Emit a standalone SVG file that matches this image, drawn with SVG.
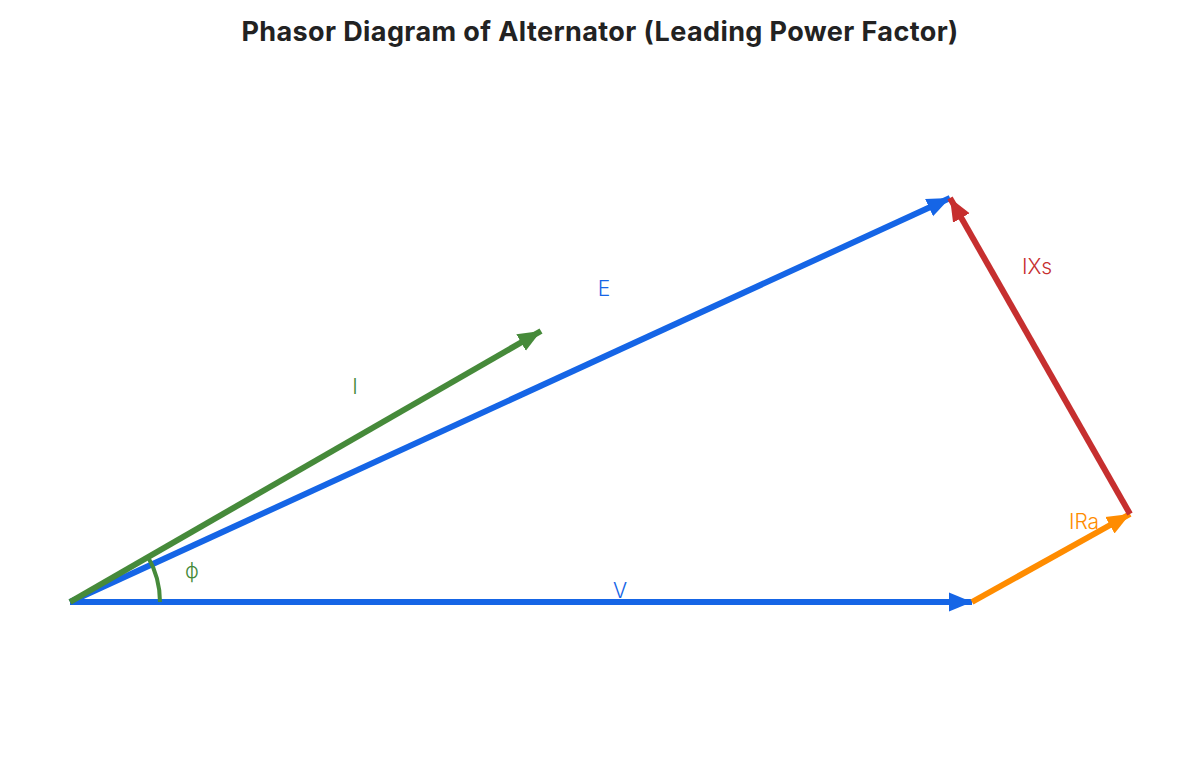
<svg xmlns="http://www.w3.org/2000/svg" width="1200" height="763" viewBox="0 0 1200 763">
<style>
.title{font-family:Inter,"Noto Sans","Liberation Sans",sans-serif;font-weight:700;font-size:27px;letter-spacing:0.4px;fill:#222}
.lbl{font-family:Inter,"Noto Sans","Liberation Sans",sans-serif;font-size:21px;font-weight:300}
.ph{fill:none;stroke-width:6;stroke-linecap:butt}
</style>
<defs>
<marker id="aB" markerUnits="userSpaceOnUse" markerWidth="26" markerHeight="22" refX="23" refY="11" orient="auto"><path d="M0,1.5 L23,11 L0,20.5 Z" fill="#1565e6"/></marker>
<marker id="aG" markerUnits="userSpaceOnUse" markerWidth="26" markerHeight="22" refX="23" refY="11" orient="auto"><path d="M0,1.5 L23,11 L0,20.5 Z" fill="#468a3a"/></marker>
<marker id="aR" markerUnits="userSpaceOnUse" markerWidth="26" markerHeight="22" refX="23" refY="11" orient="auto"><path d="M0,1.5 L23,11 L0,20.5 Z" fill="#c62f2f"/></marker>
<marker id="aO" markerUnits="userSpaceOnUse" markerWidth="26" markerHeight="22" refX="23" refY="11" orient="auto"><path d="M0,1.5 L23,11 L0,20.5 Z" fill="#ff8c00"/></marker>
</defs>
<rect width="1200" height="763" fill="#fff"/>
<text class="title" x="600" y="41" text-anchor="middle">Phasor Diagram of Alternator (Leading Power Factor)</text>
<g id="connectors">
<g id="V"><line class="ph" x1="70" y1="602" x2="972" y2="602" stroke="#1565e6" marker-end="url(#aB)"/></g>
<g id="E"><line class="ph" x1="70" y1="602" x2="950" y2="198" stroke="#1565e6" marker-end="url(#aB)"/></g>
<g id="I"><line class="ph" x1="70" y1="602" x2="541" y2="331" stroke="#468a3a" marker-end="url(#aG)"/></g>
<g id="IRa"><line class="ph" x1="972" y1="602" x2="1130" y2="514" stroke="#ff8c00" marker-end="url(#aO)"/></g>
<g id="IXs"><line class="ph" x1="1130" y1="514" x2="950" y2="198" stroke="#c62f2f" marker-end="url(#aR)"/></g>
<g id="phi-arc"><path d="M160,602 A90,90 0 0 0 148,557" fill="none" stroke="#468a3a" stroke-width="4"/></g>
</g>
<g id="labels">
<text class="lbl" x="604" y="296" fill="#1565e6" text-anchor="middle">E</text>
<text class="lbl" x="355" y="394" fill="#468a3a" text-anchor="middle">I</text>
<text class="lbl" x="1037" y="274" fill="#c62f2f" text-anchor="middle">IXs</text>
<text class="lbl" x="1084" y="529" fill="#ff8c00" text-anchor="middle">IRa</text>
<text class="lbl" x="620" y="598" fill="#1565e6" text-anchor="middle">V</text>
<text class="lbl" x="192" y="578" fill="#468a3a" text-anchor="middle">ϕ</text>
</g>
</svg>
